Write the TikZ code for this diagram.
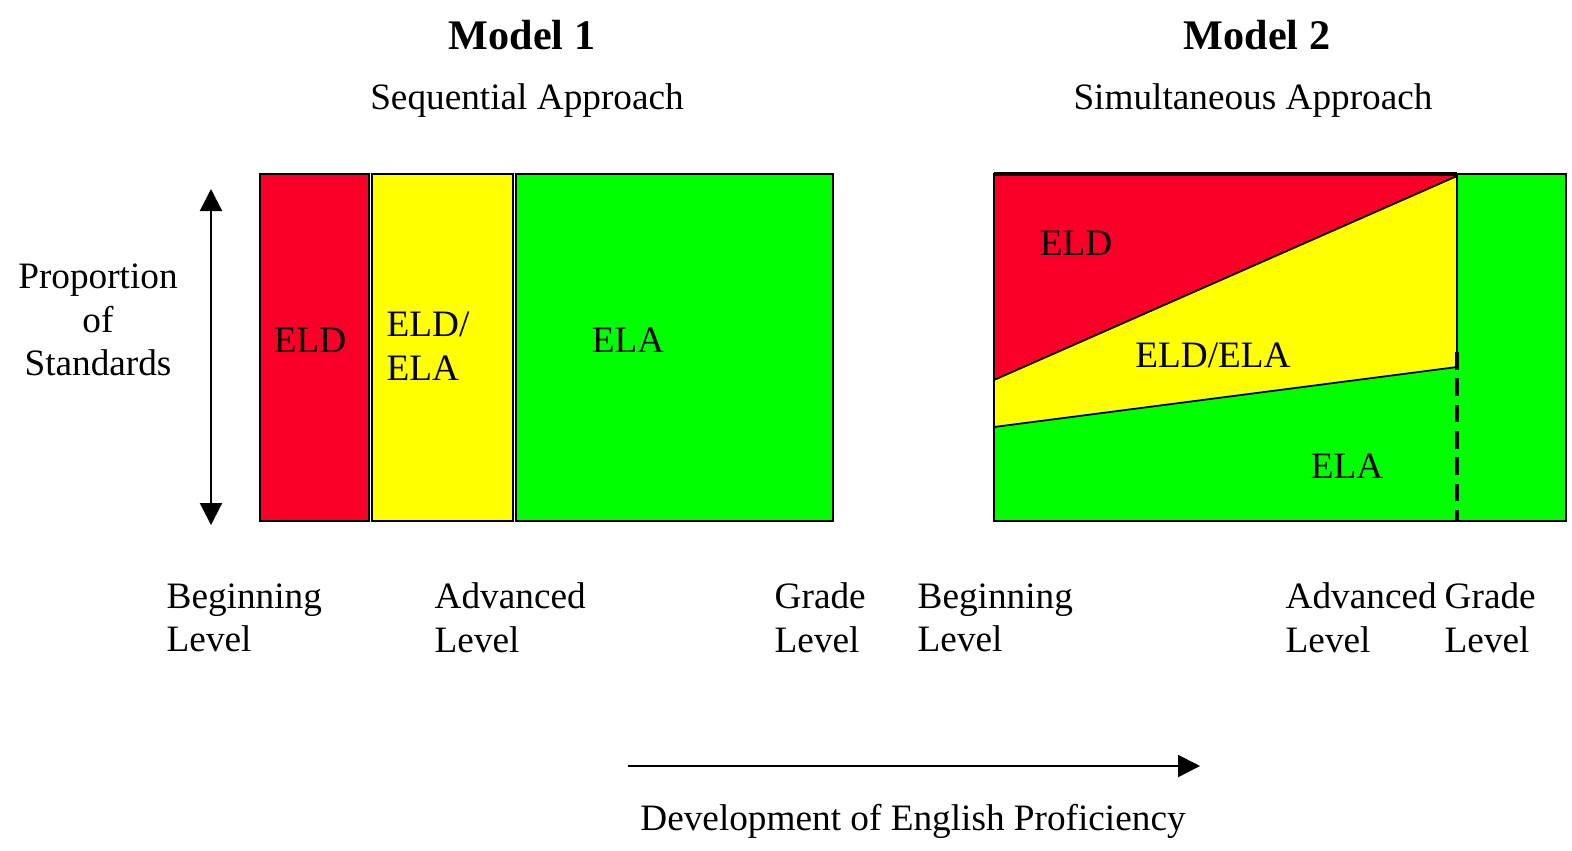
\documentclass[tikz,border=0pt]{standalone}
\usepackage{fontspec}
\setmainfont{Liberation Serif}
\usetikzlibrary{arrows.meta}
\definecolor{eldred}{RGB}{250,0,40}
\definecolor{mixyellow}{RGB}{255,255,0}
\definecolor{elagreen}{RGB}{0,255,0}

\begin{document}
\begin{tikzpicture}[x=0.1mm, y=-0.1mm,
		txt/.style={font=\fontsize{10.6}{12.4}\selectfont, inner sep=0pt},
		title/.style={font=\fontsize{12}{14}\selectfont\bfseries, inner sep=0pt},
		lvl/.style={txt, align=left, anchor=west},
		band/.style={draw, line width=0.6pt},
		>={Triangle[length=2.2mm,width=2.2mm]}
		]
		\useasboundingbox (0,0) rectangle (1572,850);
		
		\node[title] (m1) at (522,35) {Model 1};
		\node[txt] (a1) at (527,101) {Sequential Approach};
		\node[title] (m2) at (1257,35) {Model 2};
		\node[txt] (a2) at (1253,101) {Simultaneous Approach};
		
		% model 1: three bands side by side
		\draw[band, fill=eldred] (260,174) rectangle (369,521);
		\draw[band, fill=mixyellow] (372,174) rectangle (513,521);
		\draw[band, fill=elagreen] (516,174) rectangle (833,521);
		\node[txt] (eld1) at (310,340) {ELD};
		\node[txt, align=left, anchor=west] (mix1) at (386,346) {ELD/\\ELA};
		\node[txt] (ela1) at (628,340) {ELA};
		
		% model 2: sloped shares
		\coordinate (tl) at (994,174);
		\coordinate (tr) at (1566,174);
		\coordinate (bl) at (994,521);
		\coordinate (br) at (1566,521);
		\coordinate (top) at (1457,174);
		\coordinate (bot) at (1457,521);
		\coordinate (r1) at (994,380);
		\coordinate (r2) at (1457,176);
		\coordinate (g1) at (994,427);
		\coordinate (g2) at (1457,367);
		\coordinate (d1) at (1457,352);
		\fill[elagreen] (tl) rectangle (br);
		\fill[mixyellow] (r1) -- (r2) -- (g2) -- (g1) -- cycle;
		\fill[eldred] (tl) -- (top) -- (r2) -- (r1) -- cycle;
		\draw[line width=0.5pt] (r1) -- (r2);
		\draw[line width=0.5pt] (g1) -- (g2);
		\draw[line width=0.5pt] (top) -- (d1);
		\draw[line width=0.9pt, dash pattern=on 5pt off 2.5pt] (d1) -- (bot);
		\draw[band] (tl) rectangle (br);
		\draw[line width=1pt] (tl) -- (top);
		\node[txt] (eld2) at (1076,243) {ELD};
		\node[txt] (mix2) at (1213,355) {ELD/ELA};
		\node[txt] (ela2) at (1347,466) {ELA};
		
		% axes
		\node[txt, align=center] (prop) at (98,320) {Proportion\\of\\Standards};
		\coordinate (up) at (211,189);
		\coordinate (down) at (211,525);
		\draw[<->, line width=0.6pt] (down) -- (up);
		\coordinate (dstart) at (628,766);
		\coordinate (dend) at (1200,766);
		\draw[->, line width=0.6pt] (dstart) -- (dend);
		\node[txt] (dev) at (913,821) {Development of English Proficiency};
		
		% level labels
		\node[lvl] (beg1) at (166,618) {Beginning\\Level};
		\node[lvl] (adv1) at (434,618) {Advanced\\Level};
		\node[lvl] (gr1) at (774,618) {Grade\\Level};
		\node[lvl] (beg2) at (917,618) {Beginning\\Level};
		\node[lvl] (adv2) at (1285,618) {Advanced\\Level};
		\node[lvl] (gr2) at (1444,618) {Grade\\Level};
		\end{tikzpicture}
\end{document}
